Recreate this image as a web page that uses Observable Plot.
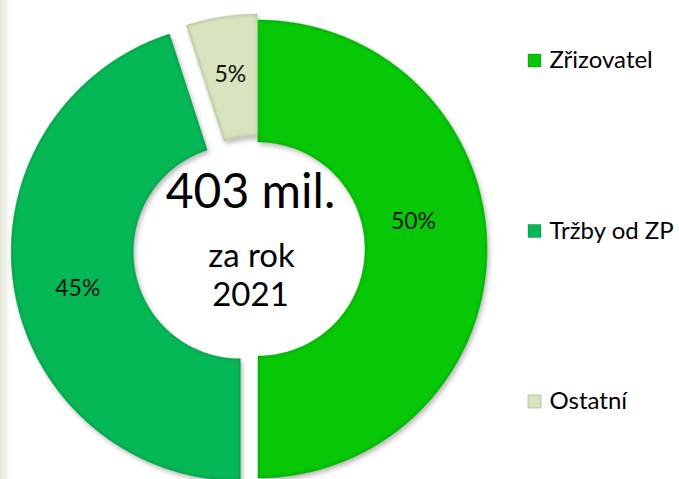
<!DOCTYPE html>
<html><head><meta charset="utf-8">
<script src="https://cdn.jsdelivr.net/npm/d3@7"></script>
<script src="https://cdn.jsdelivr.net/npm/@observablehq/plot@0.6"></script>
<style>
body{margin:0;background:#fff;}
#chart{position:relative;width:679px;height:479px;overflow:hidden;background:#fff;}
#strip{position:absolute;left:0;top:0;width:10px;height:479px;
 background:linear-gradient(90deg,#dfe3d2 0%,#eceee3 60%,#fff 100%);opacity:.8;}
#chart svg{position:absolute;left:0;top:0;}
</style></head><body><div id="chart"><div id="strip"></div></div>
<script>
// ---- data ----
const categories = ["Zřizovatel", "Tržby od ZP", "Ostatní"];
const shares = [50, 45, 5];
const shareLabels = ["50%", "45%", "5%"];
const centerLines = ["403 mil.", "za rok", "2021"];

// ---- styles / layout ----
const colors = ["#06c806", "#05b856", "#d7e4bd"];
const explode = [0, 18, 6];
const labelNudge = [[-13, -28], [3, 10], [-1, -3]];
const W = 679, H = 479;
const cx = 258, cy = 249, R = 229, r0 = 107;
const font = "Lato, 'Open Sans', sans-serif";

const arcs = d3.pie().sort(null).value(d => d)(shares);
const band = [];
const labelPts = [];
arcs.forEach((p, i) => {
  const mid = (p.startAngle + p.endAngle) / 2;
  const dx = explode[i] * Math.sin(mid), dy = -explode[i] * Math.cos(mid);
  const n = Math.max(6, Math.ceil((p.endAngle - p.startAngle) / (Math.PI / 360)));
  for (let k = 0; k <= n; k++) {
    const a = p.startAngle + (p.endAngle - p.startAngle) * k / n;
    band.push({cat: categories[i], color: colors[i],
      xo: cx + dx + R * Math.sin(a), yo: cy + dy - R * Math.cos(a),
      xi: cx + dx + r0 * Math.sin(a), yi: cy + dy - r0 * Math.cos(a)});
  }
  const rm = (R + r0) / 2;
  labelPts.push({text: shareLabels[i],
    x: cx + dx + rm * Math.sin(mid) + labelNudge[i][0],
    y: cy + dy - rm * Math.cos(mid) + labelNudge[i][1]});
});

const legendRows = categories.map((c, i) => ({cat: c, color: colors[i], x: 534, y: 60 + i * 170.5}));
const centerText = [
  {t: centerLines[0], x: 250, y: 192, size: 48},
  {t: centerLines[1], x: 251, y: 256, size: 33},
  {t: centerLines[2], x: 250, y: 295, size: 33}
];

const areaOpts = {x1: "xo", y1: "yo", x2: "xi", y2: "yi", z: "cat"};
const chart = Plot.plot({
  width: W, height: H, margin: 0,
  style: {fontFamily: font, background: "transparent", overflow: "visible"},
  x: {domain: [0, W], range: [0, W], axis: null},
  y: {domain: [0, H], range: [0, H], axis: null},
  marks: [
    Plot.area(band, {...areaOpts, fill: "#000", fillOpacity: 0.28}),
    Plot.area(band, {...areaOpts, fill: d => d.color, stroke: d => d.color, strokeWidth: 0.5}),
    Plot.area(band, {...areaOpts, fill: d => d.color}),
    Plot.text(labelPts, {x: "x", y: "y", text: "text", fontSize: 23, fill: "#111"}),
    Plot.text(centerText, {x: "x", y: "y", text: "t", fontSize: "size", fill: "#000"}),
    Plot.dot(legendRows, {x: "x", y: "y", symbol: "square", r: 7.4, fill: "color", stroke: "rgba(0,0,0,0.3)", strokeWidth: 0.6}),
    Plot.text(legendRows, {x: d => d.x + 15, y: "y", text: "cat", textAnchor: "start", fontSize: 24, fill: "#000"})
  ]
});

const ns = "http://www.w3.org/2000/svg";
const defs = document.createElementNS(ns, "defs");
function el(tag, attrs, parent) {
  const e = document.createElementNS(ns, tag);
  for (const k in attrs) e.setAttribute(k, attrs[k]);
  parent.appendChild(e); return e;
}
const fs = el("filter", {id: "shadowF", x: "-20%", y: "-20%", width: "140%", height: "140%"}, defs);
el("feOffset", {in: "SourceGraphic", dx: "2", dy: "3", result: "o"}, fs);
el("feGaussianBlur", {in: "o", stdDeviation: "2.5"}, fs);
const fe = el("filter", {id: "edgeF", x: "-10%", y: "-10%", width: "120%", height: "120%"}, defs);
el("feGaussianBlur", {in: "SourceAlpha", stdDeviation: "2", result: "b"}, fe);
el("feComposite", {in: "SourceAlpha", in2: "b", operator: "out", result: "edge"}, fe);
el("feFlood", {"flood-color": "#000", "flood-opacity": "0.25", result: "fl"}, fe);
el("feComposite", {in: "fl", in2: "edge", operator: "in"}, fe);
chart.insertBefore(defs, chart.firstChild);
const areaGroups = chart.querySelectorAll('g[aria-label="area"]');
if (areaGroups[0]) areaGroups[0].setAttribute("filter", "url(#shadowF)");
if (areaGroups[2]) areaGroups[2].setAttribute("filter", "url(#edgeF)");
document.getElementById("chart").appendChild(chart);
</script>
</body></html>
